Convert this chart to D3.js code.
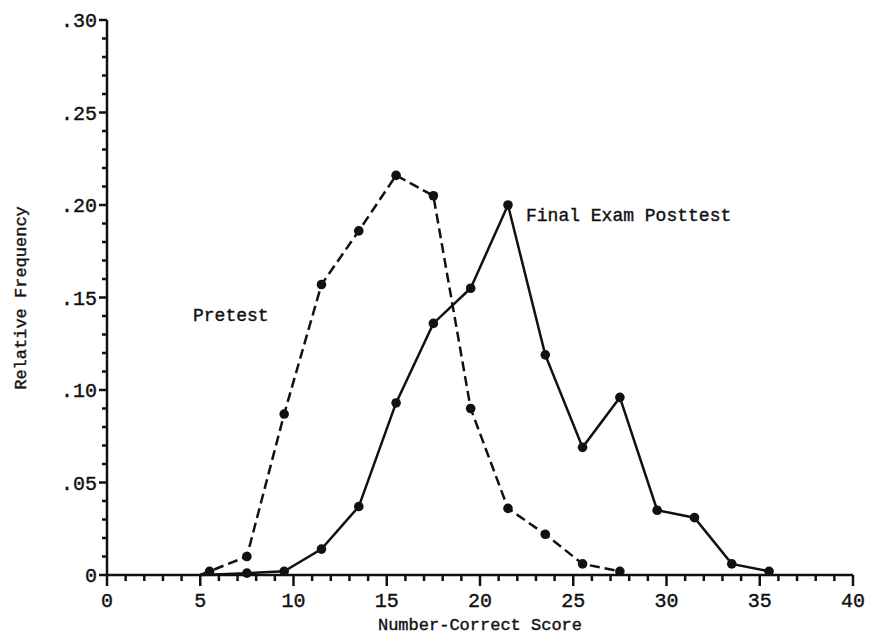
<!DOCTYPE html>
<html><head><meta charset="utf-8">
<script src="https://cdn.jsdelivr.net/npm/d3@7"></script>
<style>body{margin:0;background:#fff}text{font-family:"Liberation Mono",monospace;fill:#111;stroke:#111;stroke-width:0.4}</style>
</head><body>
<script>
var scores = [5.5, 7.5, 9.5, 11.5, 13.5, 15.5, 17.5, 19.5, 21.5, 23.5, 25.5, 27.5, 29.5, 31.5, 33.5, 35.5];
var pretest = [0.002, 0.010, 0.087, 0.157, 0.186, 0.216, 0.205, 0.090, 0.036, 0.022, 0.006, 0.002];
var posttest = [null, 0.001, 0.002, 0.014, 0.037, 0.093, 0.136, 0.155, 0.200, 0.119, 0.069, 0.096, 0.035, 0.031, 0.006, 0.002];
var yTickLabels = ["0", ".05", ".10", ".15", ".20", ".25", ".30"];

var svg = d3.select("body").append("svg").attr("width", 870).attr("height", 636);
var x = d3.scaleLinear().domain([0, 40]).range([107, 853]);
var y = d3.scaleLinear().domain([0, 0.30]).range([575, 20]);

// axes
var ink = "#111";
svg.append("line").attr("x1", x(0)).attr("x2", x(40)).attr("y1", y(0)).attr("y2", y(0)).attr("stroke", ink).attr("stroke-width", 2.5);
svg.append("line").attr("x1", x(0)).attr("x2", x(0)).attr("y1", y(0)).attr("y2", y(0.30)).attr("stroke", ink).attr("stroke-width", 2.5);

d3.range(0, 41).forEach(function(v) {
    var major = v % 5 === 0;
    svg.append("line").attr("x1", x(v)).attr("x2", x(v)).attr("y1", y(0)).attr("y2", y(0) + (major ? 11 : 6))
        .attr("stroke", ink).attr("stroke-width", 2.5);
    if (major) svg.append("text").attr("x", x(v)).attr("y", y(0) + 32).attr("text-anchor", "middle")
        .attr("font-size", 20).text(v);
});
d3.range(0, 31).forEach(function(i) {
    var major = i % 5 === 0;
    svg.append("line").attr("x1", x(0)).attr("x2", x(0) - (major ? 8 : 5)).attr("y1", y(i / 100)).attr("y2", y(i / 100))
        .attr("stroke", ink).attr("stroke-width", 2.5);
    if (major) svg.append("text").attr("x", x(0) - 10).attr("y", y(i / 100) + 7).attr("text-anchor", "end")
        .attr("font-size", 20).text(yTickLabels[i / 5]);
});

svg.append("text").attr("x", 480).attr("y", 630).attr("text-anchor", "middle").attr("font-size", 17).text("Number-Correct Score");
svg.append("text").attr("transform", "translate(26,298) rotate(-90)").attr("text-anchor", "middle").attr("font-size", 17).text("Relative Frequency");

function draw(vals, dash, start) {
    var pts = [];
    vals.forEach(function(v, i) { if (v !== null) pts.push([scores[i], v]); });
    var line = d3.line().x(function(d) { return x(d[0]); }).y(function(d) { return y(d[1]); });
    svg.append("path").datum([[start, 0]].concat(pts)).attr("d", line).attr("fill", "none").attr("stroke", ink)
        .attr("stroke-width", 2.5).attr("stroke-dasharray", dash);
    svg.selectAll(null).data(pts).enter().append("circle").attr("cx", function(d) { return x(d[0]); })
        .attr("cy", function(d) { return y(d[1]); }).attr("r", 4.8).attr("fill", ink);
}
draw(pretest, "10,5", 5);
draw(posttest, null, 5);

svg.append("text").attr("x", 193).attr("y", 321).attr("font-size", 18).text("Pretest");
svg.append("text").attr("x", 526).attr("y", 221).attr("font-size", 18).text("Final Exam Posttest");
</script>
</body></html>
